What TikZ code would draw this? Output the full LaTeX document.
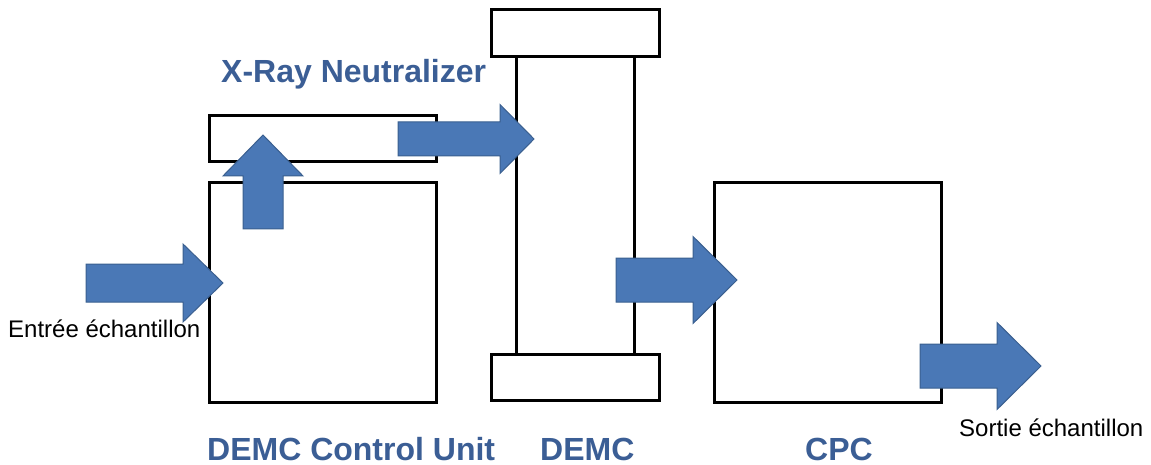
\documentclass[tikz,border=0pt]{standalone}
\usepackage{fontspec}
\setmainfont{Liberation Sans}
\definecolor{arrowfill}{HTML}{4A78B6}
\definecolor{arrowline}{HTML}{3A5F8F}
\definecolor{labelblue}{HTML}{3B5E95}
\tikzset{
  box/.style={draw=black, line width=3pt},
  blockarrow/.style={fill=arrowfill, draw=arrowline, line width=1pt, line join=miter},
  title/.style={font=\fontsize{32}{38}\selectfont\bfseries, text=labelblue, inner sep=0pt, anchor=base west},
  caption/.style={font=\fontsize{24}{28}\selectfont, text=black, inner sep=0pt, anchor=base west}
}
% right-pointing block arrow: start x, head base x, tip x, centre y, shaft half height, head half height
\newcommand{\rightblock}[6]{%
  \draw[blockarrow] (#1,{#4-#5}) -- (#2,{#4-#5}) -- (#2,{#4-#6}) -- (#3,#4)
    -- (#2,{#4+#6}) -- (#2,{#4+#5}) -- (#1,{#4+#5}) -- cycle;}
% upward block arrow: centre x, start y, head base y, tip y, shaft half width, head half width
\newcommand{\upblock}[6]{%
  \draw[blockarrow] ({#1-#5},#2) -- ({#1-#5},#3) -- ({#1-#6},#3) -- (#1,#4)
    -- ({#1+#6},#3) -- ({#1+#5},#3) -- ({#1+#5},#2) -- cycle;}
\begin{document}
\begin{tikzpicture}[x=1pt, y=-1pt]
\useasboundingbox (0,0) rectangle (1151,465);

% X-ray neutralizer and DEMC control unit
\draw[box] (209,116) rectangle (436,162);
\draw[box] (209,183) rectangle (436,402);

% DEMC column with its two end caps
\draw[box] (516,57) rectangle (634,354);
\draw[box] (491,10) rectangle (659,57);
\draw[box] (491,354) rectangle (659,400);

% CPC
\draw[box] (714,183) rectangle (941,402);

% sample flow
\rightblock{86}{183}{223}{283}{19}{39}
\upblock{263}{229}{176}{135}{20}{40}
\rightblock{398}{500}{534}{139}{17}{34.5}
\rightblock{616}{693}{737}{280}{22}{43.5}
\rightblock{920}{997}{1041}{366}{22}{43.5}

% labels
\node[title] (neut) at (221,83) {X-Ray Neutralizer};
\node[title] (ctrl) at (207,460) {DEMC Control Unit};
\node[title] (demc) at (540,460) {DEMC};
\node[title] (cpc) at (805,460) {CPC};
\node[caption] (inlet) at (8,337) {Entrée échantillon};
\node[caption] (outlet) at (959,436) {Sortie échantillon};
\end{tikzpicture}
\end{document}
